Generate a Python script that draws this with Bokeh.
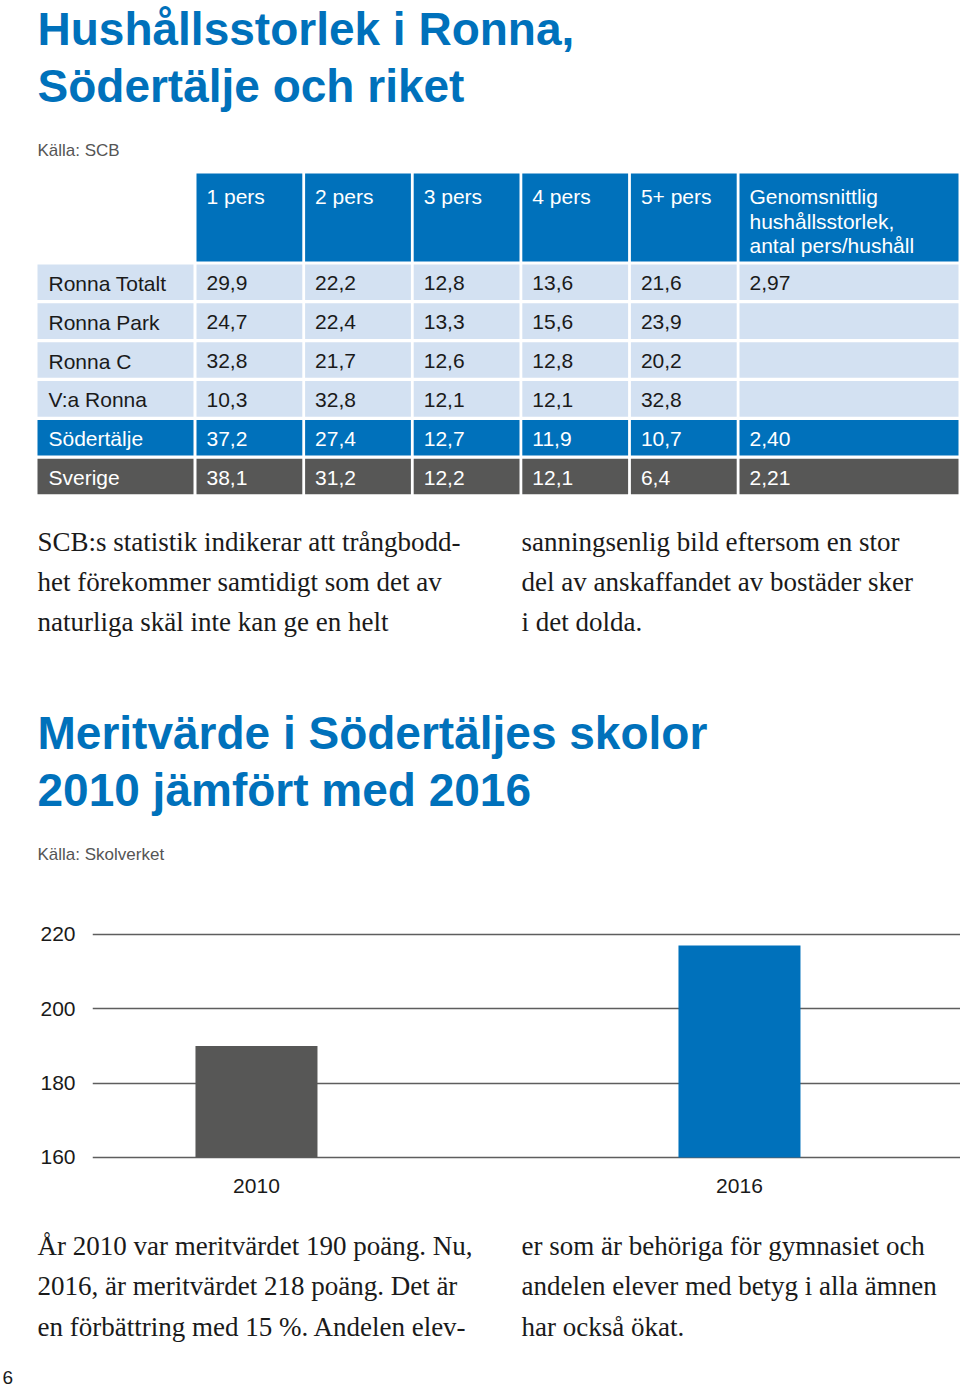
from bokeh.plotting import figure
from bokeh.layouts import column
from bokeh.models import Range1d, FixedTicker
from bokeh.core.properties import value
from bokeh.embed import file_html
from bokeh.resources import INLINE

# ---------------- data ----------------
title1 = ["Hushållsstorlek i Ronna,", "Södertälje och riket"]
source1 = "Källa: SCB"
areas = ["Ronna Totalt", "Ronna Park", "Ronna C", "V:a Ronna", "Södertälje", "Sverige"]
col_heads = [["1 pers"], ["2 pers"], ["3 pers"], ["4 pers"], ["5+ pers"],
             ["Genomsnittlig", "hushållsstorlek,", "antal pers/hushåll"]]
pers1 = [29.9, 24.7, 32.8, 10.3, 37.2, 38.1]
pers2 = [22.2, 22.4, 21.7, 32.8, 27.4, 31.2]
pers3 = [12.8, 13.3, 12.6, 12.1, 12.7, 12.2]
pers4 = [13.6, 15.6, 12.8, 12.1, 11.9, 12.1]
pers5 = [21.6, 23.9, 20.2, 32.8, 10.7, 6.4]
avg_size = [2.97, None, None, None, 2.40, 2.21]

text1_left = ["SCB:s statistik indikerar att trångbodd-",
              "het förekommer samtidigt som det av",
              "naturliga skäl inte kan ge en helt"]
text1_right = ["sanningsenlig bild eftersom en stor",
               "del av anskaffandet av bostäder sker",
               "i det dolda."]

title2 = ["Meritvärde i Södertäljes skolor", "2010 jämfört med 2016"]
source2 = "Källa: Skolverket"
years = ["2010", "2016"]
merit = [190, 217]
y_ticks = [160, 180, 200, 220]

text2_left = ["År 2010 var meritvärdet 190 poäng. Nu,",
              "2016, är meritvärdet 218 poäng. Det är",
              "en förbättring med 15 %. Andelen elev-"]
text2_right = ["er som är behöriga för gymnasiet och",
               "andelen elever med betyg i alla ämnen",
               "har också ökat."]
page_no = "6"

# ---------------- style ----------------
BLUE = "#0071BB"
LIGHT = "#D3E1F2"
GRAY = "#575756"
DARK = "#1a1a1a"
SANS = value("Liberation Sans")
SERIF = value("Liberation Serif")
W = 960


def fmt(v, d):
    if v is None:
        return ""
    return f"{v:.{d}f}".replace(".", ",")


def page_fig(top, bottom):
    p = figure(width=W, height=bottom - top, x_range=Range1d(0, W),
               y_range=Range1d(bottom, top), x_axis_type=None, y_axis_type=None,
               output_backend="svg", toolbar_location=None, min_border=0,
               frame_align=False)
    p.grid.visible = False
    p.outline_line_color = None
    return p


def paragraph(p, lines, x, y0, step):
    p.text(x=[x] * len(lines), y=[y0 + i * step for i in range(len(lines))], text=lines,
           text_font=SERIF, text_font_size="27px", text_color=DARK,
           text_baseline="middle", text_align="left")


# ---------------- top figure (page y 0..890) ----------------
f1 = page_fig(0, 890)
f1.text(x=[37, 37], y=[28, 85], text=title1, text_font=SANS, text_font_style="bold",
        text_font_size="46px", text_color=BLUE, text_baseline="middle")
f1.text(x=[37], y=[150], text=[source1], text_font=SANS, text_font_size="17px",
        text_color="#555555", text_baseline="middle")

columns = [pers1, pers2, pers3, pers4, pers5, avg_size]
decimals = [1, 1, 1, 1, 1, 2]
n_rows = len(areas)
col_left = [196 + i * 108.6 for i in range(len(columns))]
col_right = [l + 105.8 for l in col_left[:-1]] + [958]
row_top = [264 + j * 38.85 for j in range(n_rows)]
row_bot = [t + 35.6 for t in row_top]
row_fill = [LIGHT] * 4 + [BLUE, GRAY]
row_text = [DARK] * 4 + ["white", "white"]

# header cells
f1.quad(left=col_left, right=col_right, top=[173] * len(columns), bottom=[261] * len(columns),
        fill_color=BLUE, line_color=None)
hx, hy, ht = [], [], []
for i, lines in enumerate(col_heads):
    for k, ln in enumerate(lines):
        hx.append(col_left[i] + 10)
        hy.append(196 + k * 24.5)
        ht.append(ln)
f1.text(x=hx, y=hy, text=ht, text_font=SANS, text_font_size="21px", text_color="white",
        text_baseline="middle")

# body cells
ql, qr, qt, qb, qc = [], [], [], [], []
tx, ty, tt, tc = [], [], [], []
for j in range(n_rows):
    ql.append(37); qr.append(193); qt.append(row_top[j]); qb.append(row_bot[j]); qc.append(row_fill[j])
    tx.append(48); ty.append((row_top[j] + row_bot[j]) / 2 + 1); tt.append(areas[j]); tc.append(row_text[j])
    for i, col in enumerate(columns):
        ql.append(col_left[i]); qr.append(col_right[i]); qt.append(row_top[j]); qb.append(row_bot[j])
        qc.append(row_fill[j])
        s = fmt(col[j], decimals[i])
        if s:
            tx.append(col_left[i] + 10); ty.append((row_top[j] + row_bot[j]) / 2 + 1)
            tt.append(s); tc.append(row_text[j])
f1.quad(left=ql, right=qr, top=qt, bottom=qb, fill_color=qc, line_color=None)
f1.text(x=tx, y=ty, text=tt, text_color=tc, text_font=SANS, text_font_size="21px",
        text_baseline="middle")

paragraph(f1, text1_left, 37, 541, 40.3)
paragraph(f1, text1_right, 521, 541, 40.3)

f1.text(x=[37, 37], y=[732, 789], text=title2, text_font=SANS, text_font_style="bold",
        text_font_size="46px", text_color=BLUE, text_baseline="middle")
f1.text(x=[37], y=[854], text=[source2], text_font=SANS, text_font_size="17px",
        text_color="#555555", text_baseline="middle")

# ---------------- bar chart (page y 890..1215) ----------------
f2 = figure(width=W, height=325, x_range=Range1d(-0.3395, 1.4576), y_range=Range1d(159.19, 228.06),
            output_backend="svg", toolbar_location=None, frame_align=False,
            min_border_left=92, min_border_right=0, min_border_top=14, min_border_bottom=55)
f2.outline_line_color = None
xs = list(range(len(years)))
f2.vbar(x=xs, top=merit, bottom=160, width=0.2526, fill_color=[GRAY, BLUE], line_color=None)
f2.xgrid.visible = False
f2.ygrid.ticker = FixedTicker(ticks=y_ticks)
f2.ygrid.grid_line_color = "#5e5e5e"
f2.ygrid.grid_line_width = 1.5
f2.yaxis.ticker = FixedTicker(ticks=y_ticks)
f2.xaxis.ticker = FixedTicker(ticks=xs)
f2.xaxis.major_label_overrides = {i: y for i, y in enumerate(years)}
for ax in (f2.xaxis, f2.yaxis):
    ax.axis_line_color = None
    ax.major_tick_line_color = None
    ax.minor_tick_line_color = None
    ax.major_tick_out = 0
    ax.major_tick_in = 0
    ax.major_label_text_font = "Liberation Sans"
    ax.major_label_text_font_size = "21px"
    ax.major_label_text_color = DARK
f2.yaxis.major_label_standoff = 17
f2.xaxis.major_label_standoff = 18

# ---------------- bottom text (page y 1215..1390) ----------------
f3 = page_fig(1215, 1390)
paragraph(f3, text2_left, 37, 1245, 40.7)
paragraph(f3, text2_right, 521, 1245, 40.7)
f3.text(x=[2], y=[1377], text=[page_no], text_font=SANS, text_font_size="19px",
        text_color=DARK, text_baseline="middle")

layout = column(f1, f2, f3, spacing=0)
open("out.html", "w").write(file_html(layout, INLINE))
